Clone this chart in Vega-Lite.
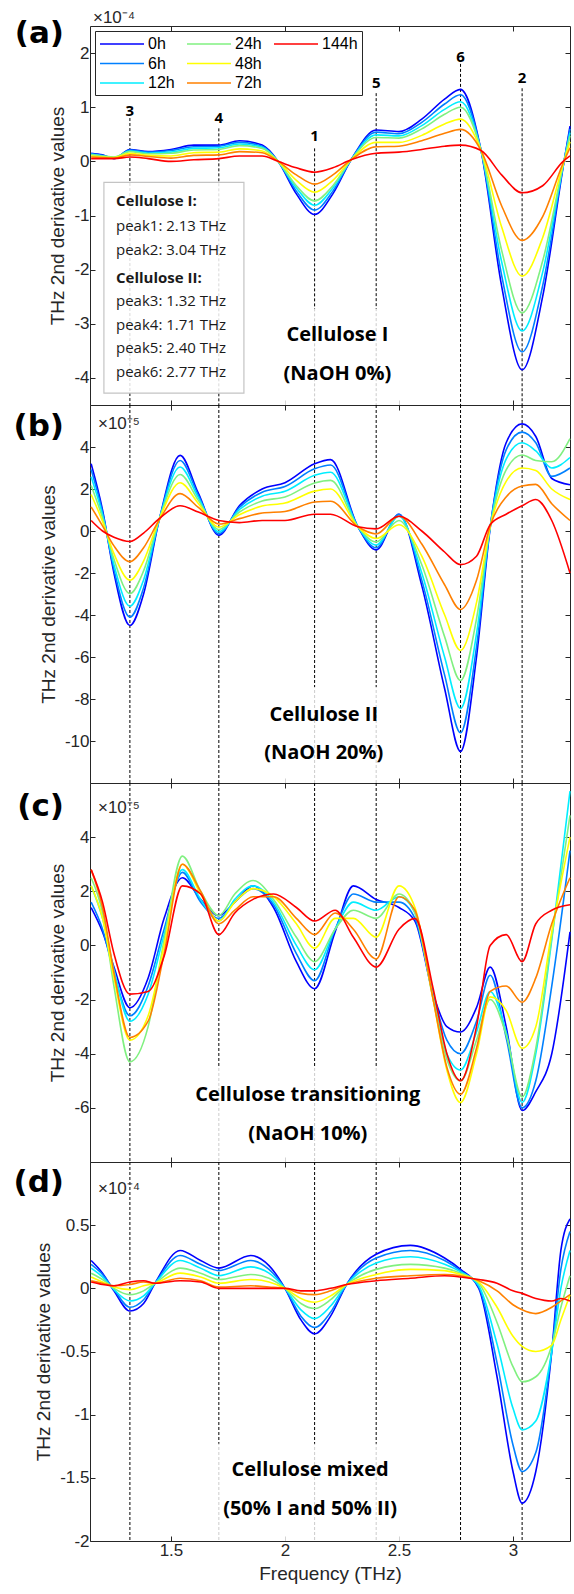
{
"$schema":"https://vega.github.io/schema/vega-lite/v6.json",
"background":"white",
"padding":{"left":12,"top":8,"right":5,"bottom":2},
"spacing":0,
"bounds":"flush",
"resolve":{"scale":{"color":"independent"},"legend":{"color":"independent"}},
"config":{
 "view":{"stroke":"#262626","strokeWidth":1},
 "axis":{"domain":false,"grid":false,"ticks":true,"tickColor":"#262626","tickSize":-5,"tickWidth":1,"labelFont":"Liberation Sans","labelFontSize":17,"labelColor":"#262626","labelPadding":6,"titleFont":"Liberation Sans","titleFontSize":19,"titleFontWeight":"normal","titleColor":"#262626","titlePadding":6,"labelExpr":"datum.value + ''"},
 "text":{"font":"Open Sans","color":"#000"}
},
"datasets":{
"pk":[{"n":"1","x":2.13,"top":0.24,"ly":0.46},{"n":"2","x":3.04,"top":1.35,"ly":1.54},{"n":"3","x":1.32,"top":0.8,"ly":0.93},{"n":"4","x":1.71,"top":0.61,"ly":0.8},{"n":"5","x":2.4,"top":1.26,"ly":1.44},{"n":"6","x":2.77,"top":1.8,"ly":1.93}],
"a":[
{"t":"0h","x":1.15,"y":0.15},{"t":"6h","x":1.15,"y":0.14},{"t":"12h","x":1.15,"y":0.13},{"t":"24h","x":1.15,"y":0.12},{"t":"48h","x":1.15,"y":0.10},{"t":"72h","x":1.15,"y":0.08},{"t":"144h","x":1.15,"y":0.05},
{"t":"0h","x":1.2,"y":0.12},{"t":"6h","x":1.2,"y":0.11},{"t":"12h","x":1.2,"y":0.10},{"t":"24h","x":1.2,"y":0.10},{"t":"48h","x":1.2,"y":0.08},{"t":"72h","x":1.2,"y":0.07},{"t":"144h","x":1.2,"y":0.05},
{"t":"0h","x":1.25,"y":0.05},{"t":"6h","x":1.25,"y":0.06},{"t":"12h","x":1.25,"y":0.07},{"t":"24h","x":1.25,"y":0.08},{"t":"48h","x":1.25,"y":0.07},{"t":"72h","x":1.25,"y":0.06},{"t":"144h","x":1.25,"y":0.05},
{"t":"0h","x":1.32,"y":0.22},{"t":"6h","x":1.32,"y":0.21},{"t":"12h","x":1.32,"y":0.19},{"t":"24h","x":1.32,"y":0.18},{"t":"48h","x":1.32,"y":0.15},{"t":"72h","x":1.32,"y":0.12},{"t":"144h","x":1.32,"y":0.08},
{"t":"0h","x":1.4,"y":0.18},{"t":"6h","x":1.4,"y":0.17},{"t":"12h","x":1.4,"y":0.15},{"t":"24h","x":1.4,"y":0.14},{"t":"48h","x":1.4,"y":0.11},{"t":"72h","x":1.4,"y":0.09},{"t":"144h","x":1.4,"y":0.05},
{"t":"0h","x":1.5,"y":0.22},{"t":"6h","x":1.5,"y":0.20},{"t":"12h","x":1.5,"y":0.17},{"t":"24h","x":1.5,"y":0.15},{"t":"48h","x":1.5,"y":0.10},{"t":"72h","x":1.5,"y":0.06},{"t":"144h","x":1.5,"y":0.00},
{"t":"0h","x":1.6,"y":0.30},{"t":"6h","x":1.6,"y":0.27},{"t":"12h","x":1.6,"y":0.24},{"t":"24h","x":1.6,"y":0.21},{"t":"48h","x":1.6,"y":0.16},{"t":"72h","x":1.6,"y":0.11},{"t":"144h","x":1.6,"y":0.03},
{"t":"0h","x":1.71,"y":0.30},{"t":"6h","x":1.71,"y":0.28},{"t":"12h","x":1.71,"y":0.25},{"t":"24h","x":1.71,"y":0.22},{"t":"48h","x":1.71,"y":0.17},{"t":"72h","x":1.71,"y":0.12},{"t":"144h","x":1.71,"y":0.05},
{"t":"0h","x":1.8,"y":0.38},{"t":"6h","x":1.8,"y":0.35},{"t":"12h","x":1.8,"y":0.32},{"t":"24h","x":1.8,"y":0.29},{"t":"48h","x":1.8,"y":0.23},{"t":"72h","x":1.8,"y":0.18},{"t":"144h","x":1.8,"y":0.10},
{"t":"0h","x":1.9,"y":0.30},{"t":"6h","x":1.9,"y":0.28},{"t":"12h","x":1.9,"y":0.26},{"t":"24h","x":1.9,"y":0.24},{"t":"48h","x":1.9,"y":0.19},{"t":"72h","x":1.9,"y":0.16},{"t":"144h","x":1.9,"y":0.10},
{"t":"0h","x":1.97,"y":0.0},{"t":"6h","x":1.97,"y":0.0},{"t":"12h","x":1.97,"y":0.0},{"t":"24h","x":1.97,"y":0.0},{"t":"48h","x":1.97,"y":0.0},{"t":"72h","x":1.97,"y":0.0},{"t":"144h","x":1.97,"y":0.0},
{"t":"0h","x":2.05,"y":-0.60},{"t":"6h","x":2.05,"y":-0.55},{"t":"12h","x":2.05,"y":-0.49},{"t":"24h","x":2.05,"y":-0.45},{"t":"48h","x":2.05,"y":-0.35},{"t":"72h","x":2.05,"y":-0.25},{"t":"144h","x":2.05,"y":-0.12},
{"t":"0h","x":2.13,"y":-0.98},{"t":"6h","x":2.13,"y":-0.90},{"t":"12h","x":2.13,"y":-0.81},{"t":"24h","x":2.13,"y":-0.73},{"t":"48h","x":2.13,"y":-0.57},{"t":"72h","x":2.13,"y":-0.42},{"t":"144h","x":2.13,"y":-0.20},
{"t":"0h","x":2.21,"y":-0.60},{"t":"6h","x":2.21,"y":-0.55},{"t":"12h","x":2.21,"y":-0.49},{"t":"24h","x":2.21,"y":-0.45},{"t":"48h","x":2.21,"y":-0.35},{"t":"72h","x":2.21,"y":-0.25},{"t":"144h","x":2.21,"y":-0.12},
{"t":"0h","x":2.29,"y":0.03},{"t":"6h","x":2.29,"y":0.03},{"t":"12h","x":2.29,"y":0.03},{"t":"24h","x":2.29,"y":0.03},{"t":"48h","x":2.29,"y":0.03},{"t":"72h","x":2.29,"y":0.03},{"t":"144h","x":2.29,"y":0.03},
{"t":"0h","x":2.4,"y":0.58},{"t":"6h","x":2.4,"y":0.54},{"t":"12h","x":2.4,"y":0.49},{"t":"24h","x":2.4,"y":0.44},{"t":"48h","x":2.4,"y":0.35},{"t":"72h","x":2.4,"y":0.27},{"t":"144h","x":2.4,"y":0.15},
{"t":"0h","x":2.5,"y":0.55},{"t":"6h","x":2.5,"y":0.51},{"t":"12h","x":2.5,"y":0.47},{"t":"24h","x":2.5,"y":0.43},{"t":"48h","x":2.5,"y":0.35},{"t":"72h","x":2.5,"y":0.28},{"t":"144h","x":2.5,"y":0.17},
{"t":"0h","x":2.6,"y":0.78},{"t":"6h","x":2.6,"y":0.72},{"t":"12h","x":2.6,"y":0.66},{"t":"24h","x":2.6,"y":0.60},{"t":"48h","x":2.6,"y":0.48},{"t":"72h","x":2.6,"y":0.38},{"t":"144h","x":2.6,"y":0.22},
{"t":"0h","x":2.7,"y":1.15},{"t":"6h","x":2.7,"y":1.06},{"t":"12h","x":2.7,"y":0.96},{"t":"24h","x":2.7,"y":0.87},{"t":"48h","x":2.7,"y":0.69},{"t":"72h","x":2.7,"y":0.52},{"t":"144h","x":2.7,"y":0.28},
{"t":"0h","x":2.77,"y":1.33},{"t":"6h","x":2.77,"y":1.23},{"t":"12h","x":2.77,"y":1.10},{"t":"24h","x":2.77,"y":1.00},{"t":"48h","x":2.77,"y":0.78},{"t":"72h","x":2.77,"y":0.59},{"t":"144h","x":2.77,"y":0.30},
{"t":"0h","x":2.86,"y":0.20},{"t":"6h","x":2.86,"y":0.20},{"t":"12h","x":2.86,"y":0.20},{"t":"24h","x":2.86,"y":0.20},{"t":"48h","x":2.86,"y":0.20},{"t":"72h","x":2.86,"y":0.20},{"t":"144h","x":2.86,"y":0.20},
{"t":"0h","x":2.95,"y":-2.3},{"t":"6h","x":2.95,"y":-2.1},{"t":"12h","x":2.95,"y":-1.85},{"t":"24h","x":2.95,"y":-1.64},{"t":"48h","x":2.95,"y":-1.21},{"t":"72h","x":2.95,"y":-0.82},{"t":"144h","x":2.95,"y":-0.25},
{"t":"0h","x":3.04,"y":-3.85},{"t":"6h","x":3.04,"y":-3.52},{"t":"12h","x":3.04,"y":-3.13},{"t":"24h","x":3.04,"y":-2.80},{"t":"48h","x":3.04,"y":-2.12},{"t":"72h","x":3.04,"y":-1.46},{"t":"144h","x":3.04,"y":-0.58},
{"t":"0h","x":3.13,"y":-2.5},{"t":"6h","x":3.13,"y":-2.3},{"t":"12h","x":3.13,"y":-2.05},{"t":"24h","x":3.13,"y":-1.84},{"t":"48h","x":3.13,"y":-1.41},{"t":"72h","x":3.13,"y":-1.02},{"t":"144h","x":3.13,"y":-0.45},
{"t":"0h","x":3.22,"y":-0.10},{"t":"6h","x":3.22,"y":-0.09},{"t":"12h","x":3.22,"y":-0.08},{"t":"24h","x":3.22,"y":-0.07},{"t":"48h","x":3.22,"y":-0.05},{"t":"72h","x":3.22,"y":-0.03},{"t":"144h","x":3.22,"y":0.00},
{"t":"0h","x":3.25,"y":0.65},{"t":"6h","x":3.25,"y":0.60},{"t":"12h","x":3.25,"y":0.53},{"t":"24h","x":3.25,"y":0.47},{"t":"48h","x":3.25,"y":0.36},{"t":"72h","x":3.25,"y":0.25},{"t":"144h","x":3.25,"y":0.10}
],
"b":[
{"t":"0h","x":1.15,"y":3.2},{"t":"6h","x":1.15,"y":2.93},{"t":"12h","x":1.15,"y":2.58},{"t":"24h","x":1.15,"y":2.17},{"t":"48h","x":1.15,"y":1.74},{"t":"72h","x":1.15,"y":1.15},{"t":"144h","x":1.15,"y":0.5},
{"t":"0h","x":1.2,"y":1.0},{"t":"6h","x":1.2,"y":0.9},{"t":"12h","x":1.2,"y":0.77},{"t":"24h","x":1.2,"y":0.62},{"t":"48h","x":1.2,"y":0.46},{"t":"72h","x":1.2,"y":0.24},{"t":"144h","x":1.2,"y":0.0},
{"t":"0h","x":1.25,"y":-2.0},{"t":"6h","x":1.25,"y":-1.83},{"t":"12h","x":1.25,"y":-1.61},{"t":"24h","x":1.25,"y":-1.35},{"t":"48h","x":1.25,"y":-1.08},{"t":"72h","x":1.25,"y":-0.71},{"t":"144h","x":1.25,"y":-0.3},
{"t":"0h","x":1.32,"y":-4.5},{"t":"6h","x":1.32,"y":-4.1},{"t":"12h","x":1.32,"y":-3.58},{"t":"24h","x":1.32,"y":-2.98},{"t":"48h","x":1.32,"y":-2.34},{"t":"72h","x":1.32,"y":-1.46},{"t":"144h","x":1.32,"y":-0.5},
{"t":"0h","x":1.38,"y":-3.0},{"t":"6h","x":1.38,"y":-2.71},{"t":"12h","x":1.38,"y":-2.33},{"t":"24h","x":1.38,"y":-1.9},{"t":"48h","x":1.38,"y":-1.43},{"t":"72h","x":1.38,"y":-0.8},{"t":"144h","x":1.38,"y":-0.1},
{"t":"0h","x":1.45,"y":0.6},{"t":"6h","x":1.45,"y":0.6},{"t":"12h","x":1.45,"y":0.6},{"t":"24h","x":1.45,"y":0.6},{"t":"48h","x":1.45,"y":0.6},{"t":"72h","x":1.45,"y":0.55},{"t":"144h","x":1.45,"y":0.6},
{"t":"0h","x":1.54,"y":3.6},{"t":"6h","x":1.54,"y":3.36},{"t":"12h","x":1.54,"y":3.05},{"t":"24h","x":1.54,"y":2.69},{"t":"48h","x":1.54,"y":2.3},{"t":"72h","x":1.54,"y":1.78},{"t":"144h","x":1.54,"y":1.2},
{"t":"0h","x":1.62,"y":1.8},{"t":"6h","x":1.62,"y":1.71},{"t":"12h","x":1.62,"y":1.59},{"t":"24h","x":1.62,"y":1.46},{"t":"48h","x":1.62,"y":1.31},{"t":"72h","x":1.62,"y":1.12},{"t":"144h","x":1.62,"y":0.9},
{"t":"0h","x":1.71,"y":-0.2},{"t":"6h","x":1.71,"y":-0.13},{"t":"12h","x":1.71,"y":-0.04},{"t":"24h","x":1.71,"y":0.07},{"t":"48h","x":1.71,"y":0.18},{"t":"72h","x":1.71,"y":0.33},{"t":"144h","x":1.71,"y":0.5},
{"t":"0h","x":1.8,"y":1.2},{"t":"6h","x":1.8,"y":1.12},{"t":"12h","x":1.8,"y":1.02},{"t":"24h","x":1.8,"y":0.9},{"t":"48h","x":1.8,"y":0.77},{"t":"72h","x":1.8,"y":0.59},{"t":"144h","x":1.8,"y":0.4},
{"t":"0h","x":1.9,"y":2.0},{"t":"6h","x":1.9,"y":1.85},{"t":"12h","x":1.9,"y":1.66},{"t":"24h","x":1.9,"y":1.43},{"t":"48h","x":1.9,"y":1.19},{"t":"72h","x":1.9,"y":0.86},{"t":"144h","x":1.9,"y":0.5},
{"t":"0h","x":2.0,"y":2.3},{"t":"6h","x":2.0,"y":2.12},{"t":"12h","x":2.0,"y":1.89},{"t":"24h","x":2.0,"y":1.62},{"t":"48h","x":2.0,"y":1.33},{"t":"72h","x":2.0,"y":0.93},{"t":"144h","x":2.0,"y":0.5},
{"t":"0h","x":2.13,"y":3.2},{"t":"6h","x":2.13,"y":2.96},{"t":"12h","x":2.13,"y":2.65},{"t":"24h","x":2.13,"y":2.29},{"t":"48h","x":2.13,"y":1.9},{"t":"72h","x":2.13,"y":1.38},{"t":"144h","x":2.13,"y":0.8},
{"t":"0h","x":2.2,"y":3.4},{"t":"6h","x":2.2,"y":3.14},{"t":"12h","x":2.2,"y":2.8},{"t":"24h","x":2.2,"y":2.41},{"t":"48h","x":2.2,"y":2.0},{"t":"72h","x":2.2,"y":1.42},{"t":"144h","x":2.2,"y":0.8},
{"t":"0h","x":2.32,"y":0.2},{"t":"6h","x":2.32,"y":0.2},{"t":"12h","x":2.32,"y":0.2},{"t":"24h","x":2.32,"y":0.2},{"t":"48h","x":2.32,"y":0.2},{"t":"72h","x":2.32,"y":0.2},{"t":"144h","x":2.32,"y":0.2},
{"t":"0h","x":2.4,"y":-0.9},{"t":"6h","x":2.4,"y":-0.8},{"t":"12h","x":2.4,"y":-0.67},{"t":"24h","x":2.4,"y":-0.52},{"t":"48h","x":2.4,"y":-0.36},{"t":"72h","x":2.4,"y":-0.14},{"t":"144h","x":2.4,"y":0.1},
{"t":"0h","x":2.5,"y":0.8},{"t":"6h","x":2.5,"y":0.8},{"t":"12h","x":2.5,"y":0.7},{"t":"24h","x":2.5,"y":0.5},{"t":"48h","x":2.5,"y":0.3},{"t":"72h","x":2.5,"y":0.7},{"t":"144h","x":2.5,"y":0.7},
{"t":"0h","x":2.6,"y":-2.6},{"t":"6h","x":2.6,"y":-2.34},{"t":"12h","x":2.6,"y":-2.0},{"t":"24h","x":2.6,"y":-1.61},{"t":"48h","x":2.6,"y":-1.2},{"t":"72h","x":2.6,"y":-0.62},{"t":"144h","x":2.6,"y":0.0},
{"t":"0h","x":2.7,"y":-7.5},{"t":"6h","x":2.7,"y":-6.85},{"t":"12h","x":2.7,"y":-6.0},{"t":"24h","x":2.7,"y":-5.03},{"t":"48h","x":2.7,"y":-3.99},{"t":"72h","x":2.7,"y":-2.56},{"t":"144h","x":2.7,"y":-1.0},
{"t":"0h","x":2.77,"y":-10.5},{"t":"6h","x":2.77,"y":-9.61},{"t":"12h","x":2.77,"y":-8.45},{"t":"24h","x":2.77,"y":-7.12},{"t":"48h","x":2.77,"y":-5.69},{"t":"72h","x":2.77,"y":-3.74},{"t":"144h","x":2.77,"y":-1.6},
{"t":"0h","x":2.84,"y":-6.0},{"t":"6h","x":2.84,"y":-5.52},{"t":"12h","x":2.84,"y":-4.9},{"t":"24h","x":2.84,"y":-4.18},{"t":"48h","x":2.84,"y":-3.41},{"t":"72h","x":2.84,"y":-2.35},{"t":"144h","x":2.84,"y":-1.2},
{"t":"0h","x":2.9,"y":0.15},{"t":"6h","x":2.9,"y":0.2},{"t":"12h","x":2.9,"y":0.2},{"t":"24h","x":2.9,"y":0.2},{"t":"48h","x":2.9,"y":0.2},{"t":"72h","x":2.9,"y":0.25},{"t":"144h","x":2.9,"y":0.3},
{"t":"0h","x":2.97,"y":4.2},{"t":"6h","x":2.97,"y":3.86},{"t":"12h","x":2.97,"y":3.42},{"t":"24h","x":2.97,"y":2.91},{"t":"48h","x":2.97,"y":2.36},{"t":"72h","x":2.97,"y":1.62},{"t":"144h","x":2.97,"y":0.8},
{"t":"0h","x":3.04,"y":5.1},{"t":"6h","x":3.04,"y":4.71},{"t":"12h","x":3.04,"y":4.2},{"t":"24h","x":3.04,"y":3.62},{"t":"48h","x":3.04,"y":3.0},{"t":"72h","x":3.04,"y":2.14},{"t":"144h","x":3.04,"y":1.2},
{"t":"0h","x":3.1,"y":4.5},{"t":"6h","x":3.1,"y":4.2},{"t":"12h","x":3.1,"y":3.81},{"t":"24h","x":3.1,"y":3.36},{"t":"48h","x":3.1,"y":2.88},{"t":"72h","x":3.1,"y":2.22},{"t":"144h","x":3.1,"y":1.5},
{"t":"0h","x":3.17,"y":2.5},{"t":"6h","x":3.17,"y":2.6},{"t":"12h","x":3.17,"y":3.0},{"t":"24h","x":3.17,"y":3.3},{"t":"48h","x":3.17,"y":2.0},{"t":"72h","x":3.17,"y":1.3},{"t":"144h","x":3.17,"y":0.5},
{"t":"0h","x":3.25,"y":2.2},{"t":"6h","x":3.25,"y":3.0},{"t":"12h","x":3.25,"y":3.5},{"t":"24h","x":3.25,"y":4.4},{"t":"48h","x":3.25,"y":1.5},{"t":"72h","x":3.25,"y":0.5},{"t":"144h","x":3.25,"y":-2.0}
],
"c":[
{"t":"0h","x":1.15,"y":1.4},{"t":"6h","x":1.15,"y":1.6},{"t":"12h","x":1.15,"y":2.2},{"t":"24h","x":1.15,"y":2.5},{"t":"48h","x":1.15,"y":2.2},{"t":"72h","x":1.15,"y":2.8},{"t":"144h","x":1.15,"y":2.8},
{"t":"0h","x":1.2,"y":0.5},{"t":"6h","x":1.2,"y":0.6},{"t":"12h","x":1.2,"y":1.0},{"t":"24h","x":1.2,"y":1.2},{"t":"48h","x":1.2,"y":1.0},{"t":"72h","x":1.2,"y":1.4},{"t":"144h","x":1.2,"y":1.6},
{"t":"0h","x":1.25,"y":-0.8},{"t":"6h","x":1.25,"y":-1.0},{"t":"12h","x":1.25,"y":-0.9},{"t":"24h","x":1.25,"y":-1.5},{"t":"48h","x":1.25,"y":-1.2},{"t":"72h","x":1.25,"y":-1.0},{"t":"144h","x":1.25,"y":-0.3},
{"t":"0h","x":1.32,"y":-2.3},{"t":"6h","x":1.32,"y":-2.6},{"t":"12h","x":1.32,"y":-2.8},{"t":"24h","x":1.32,"y":-4.3},{"t":"48h","x":1.32,"y":-3.5},{"t":"72h","x":1.32,"y":-3.4},{"t":"144h","x":1.32,"y":-1.8},
{"t":"0h","x":1.4,"y":-1.2},{"t":"6h","x":1.4,"y":-1.5},{"t":"12h","x":1.4,"y":-1.8},{"t":"24h","x":1.4,"y":-3.0},{"t":"48h","x":1.4,"y":-2.6},{"t":"72h","x":1.4,"y":-2.8},{"t":"144h","x":1.4,"y":-1.7},
{"t":"0h","x":1.47,"y":1.0},{"t":"6h","x":1.47,"y":0.6},{"t":"12h","x":1.47,"y":0.4},{"t":"24h","x":1.47,"y":0.2},{"t":"48h","x":1.47,"y":0.0},{"t":"72h","x":1.47,"y":-0.3},{"t":"144h","x":1.47,"y":-0.4},
{"t":"0h","x":1.55,"y":2.5},{"t":"6h","x":1.55,"y":2.7},{"t":"12h","x":1.55,"y":2.8},{"t":"24h","x":1.55,"y":3.3},{"t":"48h","x":1.55,"y":3.0},{"t":"72h","x":1.55,"y":3.0},{"t":"144h","x":1.55,"y":2.2},
{"t":"0h","x":1.63,"y":1.7},{"t":"6h","x":1.63,"y":1.6},{"t":"12h","x":1.63,"y":1.7},{"t":"24h","x":1.63,"y":2.0},{"t":"48h","x":1.63,"y":1.9},{"t":"72h","x":1.63,"y":2.0},{"t":"144h","x":1.63,"y":1.9},
{"t":"0h","x":1.71,"y":1.1},{"t":"6h","x":1.71,"y":1.0},{"t":"12h","x":1.71,"y":0.9},{"t":"24h","x":1.71,"y":1.1},{"t":"48h","x":1.71,"y":0.9},{"t":"72h","x":1.71,"y":0.8},{"t":"144h","x":1.71,"y":0.4},
{"t":"0h","x":1.78,"y":1.6},{"t":"6h","x":1.78,"y":1.6},{"t":"12h","x":1.78,"y":1.7},{"t":"24h","x":1.78,"y":1.9},{"t":"48h","x":1.78,"y":1.6},{"t":"72h","x":1.78,"y":1.3},{"t":"144h","x":1.78,"y":1.2},
{"t":"0h","x":1.86,"y":2.2},{"t":"6h","x":1.86,"y":2.1},{"t":"12h","x":1.86,"y":2.2},{"t":"24h","x":1.86,"y":2.4},{"t":"48h","x":1.86,"y":2.1},{"t":"72h","x":1.86,"y":1.8},{"t":"144h","x":1.86,"y":1.7},
{"t":"0h","x":1.95,"y":1.4},{"t":"6h","x":1.95,"y":1.5},{"t":"12h","x":1.95,"y":1.6},{"t":"24h","x":1.95,"y":1.7},{"t":"48h","x":1.95,"y":1.8},{"t":"72h","x":1.95,"y":1.8},{"t":"144h","x":1.95,"y":1.9},
{"t":"0h","x":2.05,"y":-0.6},{"t":"6h","x":2.05,"y":-0.3},{"t":"12h","x":2.05,"y":0.0},{"t":"24h","x":2.05,"y":0.3},{"t":"48h","x":2.05,"y":0.8},{"t":"72h","x":2.05,"y":1.0},{"t":"144h","x":2.05,"y":1.4},
{"t":"0h","x":2.13,"y":-1.6},{"t":"6h","x":2.13,"y":-1.3},{"t":"12h","x":2.13,"y":-0.9},{"t":"24h","x":2.13,"y":-0.6},{"t":"48h","x":2.13,"y":-0.1},{"t":"72h","x":2.13,"y":0.4},{"t":"144h","x":2.13,"y":0.9},
{"t":"0h","x":2.22,"y":0.5},{"t":"6h","x":2.22,"y":0.6},{"t":"12h","x":2.22,"y":0.6},{"t":"24h","x":2.22,"y":0.6},{"t":"48h","x":2.22,"y":1.0},{"t":"72h","x":2.22,"y":1.2},{"t":"144h","x":2.22,"y":1.3},
{"t":"0h","x":2.3,"y":2.2},{"t":"6h","x":2.3,"y":1.9},{"t":"12h","x":2.3,"y":1.6},{"t":"24h","x":2.3,"y":1.3},{"t":"48h","x":2.3,"y":1.0},{"t":"72h","x":2.3,"y":0.6},{"t":"144h","x":2.3,"y":0.3},
{"t":"0h","x":2.4,"y":1.7},{"t":"6h","x":2.4,"y":1.6},{"t":"12h","x":2.4,"y":1.3},{"t":"24h","x":2.4,"y":1.0},{"t":"48h","x":2.4,"y":0.3},{"t":"72h","x":2.4,"y":-0.5},{"t":"144h","x":2.4,"y":-0.8},
{"t":"0h","x":2.5,"y":1.4},{"t":"6h","x":2.5,"y":1.6},{"t":"12h","x":2.5,"y":1.8},{"t":"24h","x":2.5,"y":1.9},{"t":"48h","x":2.5,"y":2.2},{"t":"72h","x":2.5,"y":1.8},{"t":"144h","x":2.5,"y":0.6},
{"t":"0h","x":2.57,"y":0.9},{"t":"6h","x":2.57,"y":1.0},{"t":"12h","x":2.57,"y":1.2},{"t":"24h","x":2.57,"y":1.2},{"t":"48h","x":2.57,"y":1.4},{"t":"72h","x":2.57,"y":1.3},{"t":"144h","x":2.57,"y":1.0},
{"t":"0h","x":2.65,"y":-1.8},{"t":"6h","x":2.65,"y":-1.8},{"t":"12h","x":2.65,"y":-1.9},{"t":"24h","x":2.65,"y":-2.0},{"t":"48h","x":2.65,"y":-2.0},{"t":"72h","x":2.65,"y":-2.0},{"t":"144h","x":2.65,"y":-1.6},
{"t":"0h","x":2.71,"y":-3.0},{"t":"6h","x":2.71,"y":-3.5},{"t":"12h","x":2.71,"y":-4.0},{"t":"24h","x":2.71,"y":-4.2},{"t":"48h","x":2.71,"y":-4.6},{"t":"72h","x":2.71,"y":-4.5},{"t":"144h","x":2.71,"y":-4.0},
{"t":"0h","x":2.77,"y":-3.2},{"t":"6h","x":2.77,"y":-4.0},{"t":"12h","x":2.77,"y":-4.6},{"t":"24h","x":2.77,"y":-5.0},{"t":"48h","x":2.77,"y":-5.8},{"t":"72h","x":2.77,"y":-5.5},{"t":"144h","x":2.77,"y":-5.0},
{"t":"0h","x":2.84,"y":-2.3},{"t":"6h","x":2.84,"y":-2.8},{"t":"12h","x":2.84,"y":-3.2},{"t":"24h","x":2.84,"y":-3.5},{"t":"48h","x":2.84,"y":-4.0},{"t":"72h","x":2.84,"y":-3.8},{"t":"144h","x":2.84,"y":-3.0},
{"t":"0h","x":2.9,"y":-0.8},{"t":"6h","x":2.9,"y":-1.1},{"t":"12h","x":2.9,"y":-1.7},{"t":"24h","x":2.9,"y":-2.0},{"t":"48h","x":2.9,"y":-1.9},{"t":"72h","x":2.9,"y":-1.7},{"t":"144h","x":2.9,"y":0.0},
{"t":"0h","x":2.97,"y":-3.0},{"t":"6h","x":2.97,"y":-3.4},{"t":"12h","x":2.97,"y":-3.2},{"t":"24h","x":2.97,"y":-3.3},{"t":"48h","x":2.97,"y":-2.4},{"t":"72h","x":2.97,"y":-1.5},{"t":"144h","x":2.97,"y":0.4},
{"t":"0h","x":3.04,"y":-6.1},{"t":"6h","x":3.04,"y":-6.0},{"t":"12h","x":3.04,"y":-5.8},{"t":"24h","x":3.04,"y":-5.6},{"t":"48h","x":3.04,"y":-3.8},{"t":"72h","x":3.04,"y":-2.1},{"t":"144h","x":3.04,"y":-0.6},
{"t":"0h","x":3.1,"y":-5.4},{"t":"6h","x":3.1,"y":-5.0},{"t":"12h","x":3.1,"y":-4.0},{"t":"24h","x":3.1,"y":-3.8},{"t":"48h","x":3.1,"y":-3.0},{"t":"72h","x":3.1,"y":-1.2},{"t":"144h","x":3.1,"y":0.8},
{"t":"0h","x":3.17,"y":-4.0},{"t":"6h","x":3.17,"y":-1.5},{"t":"12h","x":3.17,"y":0.2},{"t":"24h","x":3.17,"y":0.3},{"t":"48h","x":3.17,"y":0.5},{"t":"72h","x":3.17,"y":0.8},{"t":"144h","x":3.17,"y":1.3},
{"t":"0h","x":3.25,"y":0.5},{"t":"6h","x":3.25,"y":3.5},{"t":"12h","x":3.25,"y":5.7},{"t":"24h","x":3.25,"y":4.8},{"t":"48h","x":3.25,"y":4.0},{"t":"72h","x":3.25,"y":2.5},{"t":"144h","x":3.25,"y":1.5}
],
"d":[
{"t":"0h","x":1.15,"y":0.22},{"t":"6h","x":1.15,"y":0.19},{"t":"12h","x":1.15,"y":0.16},{"t":"24h","x":1.15,"y":0.12},{"t":"48h","x":1.15,"y":0.09},{"t":"72h","x":1.15,"y":0.06},{"t":"144h","x":1.15,"y":0.05},
{"t":"0h","x":1.2,"y":0.12},{"t":"6h","x":1.2,"y":0.11},{"t":"12h","x":1.2,"y":0.09},{"t":"24h","x":1.2,"y":0.07},{"t":"48h","x":1.2,"y":0.05},{"t":"72h","x":1.2,"y":0.04},{"t":"144h","x":1.2,"y":0.03},
{"t":"0h","x":1.25,"y":-0.02},{"t":"6h","x":1.25,"y":-0.01},{"t":"12h","x":1.25,"y":-0.01},{"t":"24h","x":1.25,"y":0.0},{"t":"48h","x":1.25,"y":0.01},{"t":"72h","x":1.25,"y":0.02},{"t":"144h","x":1.25,"y":0.02},
{"t":"0h","x":1.32,"y":-0.18},{"t":"6h","x":1.32,"y":-0.15},{"t":"12h","x":1.32,"y":-0.10},{"t":"24h","x":1.32,"y":-0.05},{"t":"48h","x":1.32,"y":-0.01},{"t":"72h","x":1.32,"y":0.03},{"t":"144h","x":1.32,"y":0.05},
{"t":"0h","x":1.38,"y":-0.12},{"t":"6h","x":1.38,"y":-0.09},{"t":"12h","x":1.38,"y":-0.06},{"t":"24h","x":1.38,"y":-0.02},{"t":"48h","x":1.38,"y":0.02},{"t":"72h","x":1.38,"y":0.05},{"t":"144h","x":1.38,"y":0.06},
{"t":"0h","x":1.43,"y":0.04},{"t":"6h","x":1.43,"y":0.04},{"t":"12h","x":1.43,"y":0.04},{"t":"24h","x":1.43,"y":0.04},{"t":"48h","x":1.43,"y":0.04},{"t":"72h","x":1.43,"y":0.04},{"t":"144h","x":1.43,"y":0.04},
{"t":"0h","x":1.54,"y":0.30},{"t":"6h","x":1.54,"y":0.26},{"t":"12h","x":1.54,"y":0.22},{"t":"24h","x":1.54,"y":0.16},{"t":"48h","x":1.54,"y":0.12},{"t":"72h","x":1.54,"y":0.08},{"t":"144h","x":1.54,"y":0.06},
{"t":"0h","x":1.63,"y":0.22},{"t":"6h","x":1.63,"y":0.19},{"t":"12h","x":1.63,"y":0.16},{"t":"24h","x":1.63,"y":0.12},{"t":"48h","x":1.63,"y":0.09},{"t":"72h","x":1.63,"y":0.06},{"t":"144h","x":1.63,"y":0.05},
{"t":"0h","x":1.71,"y":0.16},{"t":"6h","x":1.71,"y":0.14},{"t":"12h","x":1.71,"y":0.10},{"t":"24h","x":1.71,"y":0.07},{"t":"48h","x":1.71,"y":0.04},{"t":"72h","x":1.71,"y":0.01},{"t":"144h","x":1.71,"y":0.0},
{"t":"0h","x":1.85,"y":0.26},{"t":"6h","x":1.85,"y":0.22},{"t":"12h","x":1.85,"y":0.17},{"t":"24h","x":1.85,"y":0.11},{"t":"48h","x":1.85,"y":0.07},{"t":"72h","x":1.85,"y":0.02},{"t":"144h","x":1.85,"y":0.0},
{"t":"0h","x":1.93,"y":0.18},{"t":"6h","x":1.93,"y":0.15},{"t":"12h","x":1.93,"y":0.12},{"t":"24h","x":1.93,"y":0.08},{"t":"48h","x":1.93,"y":0.05},{"t":"72h","x":1.93,"y":0.01},{"t":"144h","x":1.93,"y":0.0},
{"t":"0h","x":2.0,"y":0.0},{"t":"6h","x":2.0,"y":0.0},{"t":"12h","x":2.0,"y":0.0},{"t":"24h","x":2.0,"y":0.0},{"t":"48h","x":2.0,"y":0.0},{"t":"72h","x":2.0,"y":0.0},{"t":"144h","x":2.0,"y":0.0},
{"t":"0h","x":2.07,"y":-0.25},{"t":"6h","x":2.07,"y":-0.22},{"t":"12h","x":2.07,"y":-0.17},{"t":"24h","x":2.07,"y":-0.12},{"t":"48h","x":2.07,"y":-0.08},{"t":"72h","x":2.07,"y":-0.04},{"t":"144h","x":2.07,"y":-0.02},
{"t":"0h","x":2.13,"y":-0.36},{"t":"6h","x":2.13,"y":-0.31},{"t":"12h","x":2.13,"y":-0.24},{"t":"24h","x":2.13,"y":-0.16},{"t":"48h","x":2.13,"y":-0.11},{"t":"72h","x":2.13,"y":-0.05},{"t":"144h","x":2.13,"y":-0.02},
{"t":"0h","x":2.2,"y":-0.22},{"t":"6h","x":2.2,"y":-0.19},{"t":"12h","x":2.2,"y":-0.14},{"t":"24h","x":2.2,"y":-0.09},{"t":"48h","x":2.2,"y":-0.06},{"t":"72h","x":2.2,"y":-0.02},{"t":"144h","x":2.2,"y":0.0},
{"t":"0h","x":2.27,"y":0.03},{"t":"6h","x":2.27,"y":0.03},{"t":"12h","x":2.27,"y":0.03},{"t":"24h","x":2.27,"y":0.03},{"t":"48h","x":2.27,"y":0.03},{"t":"72h","x":2.27,"y":0.03},{"t":"144h","x":2.27,"y":0.03},
{"t":"0h","x":2.4,"y":0.27},{"t":"6h","x":2.4,"y":0.24},{"t":"12h","x":2.4,"y":0.20},{"t":"24h","x":2.4,"y":0.15},{"t":"48h","x":2.4,"y":0.11},{"t":"72h","x":2.4,"y":0.08},{"t":"144h","x":2.4,"y":0.06},
{"t":"0h","x":2.55,"y":0.34},{"t":"6h","x":2.55,"y":0.30},{"t":"12h","x":2.55,"y":0.25},{"t":"24h","x":2.55,"y":0.19},{"t":"48h","x":2.55,"y":0.15},{"t":"72h","x":2.55,"y":0.10},{"t":"144h","x":2.55,"y":0.08},
{"t":"0h","x":2.7,"y":0.24},{"t":"6h","x":2.7,"y":0.22},{"t":"12h","x":2.7,"y":0.19},{"t":"24h","x":2.7,"y":0.16},{"t":"48h","x":2.7,"y":0.14},{"t":"72h","x":2.7,"y":0.11},{"t":"144h","x":2.7,"y":0.10},
{"t":"0h","x":2.77,"y":0.15},{"t":"6h","x":2.77,"y":0.14},{"t":"12h","x":2.77,"y":0.13},{"t":"24h","x":2.77,"y":0.12},{"t":"48h","x":2.77,"y":0.11},{"t":"72h","x":2.77,"y":0.10},{"t":"144h","x":2.77,"y":0.09},
{"t":"0h","x":2.85,"y":0.0},{"t":"6h","x":2.85,"y":0.01},{"t":"12h","x":2.85,"y":0.02},{"t":"24h","x":2.85,"y":0.04},{"t":"48h","x":2.85,"y":0.05},{"t":"72h","x":2.85,"y":0.06},{"t":"144h","x":2.85,"y":0.07},
{"t":"0h","x":2.93,"y":-0.70},{"t":"6h","x":2.93,"y":-0.59},{"t":"12h","x":2.93,"y":-0.44},{"t":"24h","x":2.93,"y":-0.27},{"t":"48h","x":2.93,"y":-0.15},{"t":"72h","x":2.93,"y":-0.02},{"t":"144h","x":2.93,"y":0.04},
{"t":"0h","x":3.0,"y":-1.45},{"t":"6h","x":3.0,"y":-1.24},{"t":"12h","x":3.0,"y":-0.95},{"t":"24h","x":3.0,"y":-0.62},{"t":"48h","x":3.0,"y":-0.38},{"t":"72h","x":3.0,"y":-0.13},{"t":"144h","x":3.0,"y":-0.02},
{"t":"0h","x":3.04,"y":-1.70},{"t":"6h","x":3.04,"y":-1.45},{"t":"12h","x":3.04,"y":-1.12},{"t":"24h","x":3.04,"y":-0.74},{"t":"48h","x":3.04,"y":-0.46},{"t":"72h","x":3.04,"y":-0.17},{"t":"144h","x":3.04,"y":-0.04},
{"t":"0h","x":3.1,"y":-1.45},{"t":"6h","x":3.1,"y":-1.30},{"t":"12h","x":3.1,"y":-1.05},{"t":"24h","x":3.1,"y":-0.70},{"t":"48h","x":3.1,"y":-0.50},{"t":"72h","x":3.1,"y":-0.20},{"t":"144h","x":3.1,"y":-0.08},
{"t":"0h","x":3.17,"y":-0.50},{"t":"6h","x":3.17,"y":-0.50},{"t":"12h","x":3.17,"y":-0.50},{"t":"24h","x":3.17,"y":-0.45},{"t":"48h","x":3.17,"y":-0.45},{"t":"72h","x":3.17,"y":-0.15},{"t":"144h","x":3.17,"y":-0.10},
{"t":"0h","x":3.21,"y":0.30},{"t":"6h","x":3.21,"y":0.15},{"t":"12h","x":3.21,"y":0.0},{"t":"24h","x":3.21,"y":-0.15},{"t":"48h","x":3.21,"y":-0.25},{"t":"72h","x":3.21,"y":-0.10},{"t":"144h","x":3.21,"y":-0.08},
{"t":"0h","x":3.25,"y":0.55},{"t":"6h","x":3.25,"y":0.45},{"t":"12h","x":3.25,"y":0.30},{"t":"24h","x":3.25,"y":0.10},{"t":"48h","x":3.25,"y":-0.05},{"t":"72h","x":3.25,"y":-0.05},{"t":"144h","x":3.25,"y":-0.10}
]
},
"vconcat":[
{
 "width":480,"height":379,
 "resolve":{"axis":{"x":"independent","y":"independent"}},
 "layer":[
  {"data":{"name":"pk"},"mark":{"type":"rule","strokeDash":[3,2],"color":"#000","strokeWidth":1},
   "encoding":{
    "x":{"field":"x","type":"quantitative","scale":{"domain":[1.145,3.25]},"axis":{"orient":"top","labels":false,"title":null,"values":[1.5,2,2.5,3]}},
    "y":{"field":"top","type":"quantitative","scale":{"domain":[-4.5,2.5]},"axis":{"orient":"right","labels":false,"title":null,"values":[-4,-3,-2,-1,0,1,2]}},
    "y2":{"datum":-4.5}}},
  {"data":{"values":[{}]},"mark":{"type":"rect","fill":"white","opacity":0.8},
   "encoding":{"x":{"datum":1.96,"type":"quantitative","scale":{"domain":[1.145,3.25]},"axis":null},"x2":{"datum":2.51},"y":{"datum":-2.72,"type":"quantitative","scale":{"domain":[-4.5,2.5]},"axis":null},"y2":{"datum":-4.5}}},
  {"data":{"values":[{}]},"mark":{"type":"rect","fill":"white","fillOpacity":0.85,"stroke":"#c4c4c4","strokeWidth":1.2},
   "encoding":{"x":{"datum":1.206,"type":"quantitative","scale":{"domain":[1.145,3.25]},"axis":null},"x2":{"datum":1.82},"y":{"datum":-0.39,"type":"quantitative","scale":{"domain":[-4.5,2.5]},"axis":null},"y2":{"datum":-4.28}}},
  {"data":{"name":"a"},"mark":{"type":"line","interpolate":"monotone","strokeWidth":1.6},
   "encoding":{
    "x":{"field":"x","type":"quantitative","scale":{"domain":[1.145,3.25]},"axis":{"orient":"bottom","labels":false,"title":null,"values":[1.5,2,2.5,3]}},
    "y":{"field":"y","type":"quantitative","scale":{"domain":[-4.5,2.5]},"axis":{"orient":"left","title":"THz 2nd derivative values","values":[-4,-3,-2,-1,0,1,2]}},
    "color":{"field":"t","type":"nominal","scale":{"domain":["0h","24h","144h","6h","48h"," ","12h","72h"],"range":["#0000ff","#80f080","#ff0000","#0080ff","#ffff00","#ffffff","#00eeff","#ff8000"]},
     "legend":{"orient":"top-left","offset":5,"columns":3,"direction":"horizontal","title":null,"symbolType":"M-1,0H4.5","symbolSize":256,"symbolStrokeWidth":1.5,"labelFont":"Liberation Sans","labelFontSize":16,"labelColor":"#000","labelOffset":31,"columnPadding":0,"rowPadding":2.5,"gridAlign":"all","padding":4,"strokeColor":"#262626","fillColor":"white"}}}},
  {"data":{"name":"pk"},"mark":{"type":"text","fontSize":15,"fontWeight":"bold","baseline":"middle"},
   "encoding":{"x":{"field":"x","type":"quantitative","scale":{"domain":[1.145,3.25]},"axis":null},"y":{"field":"ly","type":"quantitative","scale":{"domain":[-4.5,2.5]},"axis":null},"text":{"field":"n"}}},
  {"data":{"values":[{"s":"Cellulose I:","y":-0.74},{"s":"Cellulose II:","y":-2.15}]},"mark":{"type":"text","fontSize":15,"fontWeight":"bold","align":"left","baseline":"middle","color":"#1a1a1a"},
   "encoding":{"x":{"datum":1.259,"type":"quantitative","scale":{"domain":[1.145,3.25]},"axis":null},"y":{"field":"y","type":"quantitative","scale":{"domain":[-4.5,2.5]},"axis":null},"text":{"field":"s"}}},
  {"data":{"values":[{"s":"peak1: 2.13 THz","y":-1.2},{"s":"peak2: 3.04 THz","y":-1.63},{"s":"peak3: 1.32 THz","y":-2.57},{"s":"peak4: 1.71 THz","y":-3.02},{"s":"peak5: 2.40 THz","y":-3.44},{"s":"peak6: 2.77 THz","y":-3.89}]},"mark":{"type":"text","fontSize":15,"align":"left","baseline":"middle","color":"#1a1a1a"},
   "encoding":{"x":{"datum":1.259,"type":"quantitative","scale":{"domain":[1.145,3.25]},"axis":null},"y":{"field":"y","type":"quantitative","scale":{"domain":[-4.5,2.5]},"axis":null},"text":{"field":"s"}}},
  {"data":{"values":[{"s":"Cellulose I","y":-3.2},{"s":"(NaOH 0%)","y":-3.93}]},"mark":{"type":"text","fontSize":20,"fontWeight":"bold","align":"center","baseline":"middle"},
   "encoding":{"x":{"datum":2.23,"type":"quantitative","scale":{"domain":[1.145,3.25]},"axis":null},"y":{"field":"y","type":"quantitative","scale":{"domain":[-4.5,2.5]},"axis":null},"text":{"field":"s"}}},
  {"data":{"values":[{}]},"mark":{"type":"text","text":"(a)","font":"DejaVu Sans","fontSize":31,"fontWeight":"bold","align":"right","baseline":"middle","dx":-26},
   "encoding":{"x":{"datum":1.145,"type":"quantitative","scale":{"domain":[1.145,3.25]},"axis":null},"y":{"datum":2.35,"type":"quantitative","scale":{"domain":[-4.5,2.5]},"axis":null}}},
  {"data":{"values":[{}]},"mark":{"type":"text","text":"×10⁻⁴","font":"Liberation Sans","fontSize":17,"color":"#262626","align":"left","baseline":"alphabetic"},
   "encoding":{"x":{"datum":1.158,"type":"quantitative","scale":{"domain":[1.145,3.25]},"axis":null},"y":{"datum":2.56,"type":"quantitative","scale":{"domain":[-4.5,2.5]},"axis":null}}}
 ]
},
{
 "width":480,"height":378,
 "resolve":{"axis":{"x":"independent","y":"independent"}},
 "layer":[
  {"data":{"name":"pk"},"mark":{"type":"rule","strokeDash":[3,2],"color":"#000","strokeWidth":1},
   "encoding":{
    "x":{"field":"x","type":"quantitative","scale":{"domain":[1.145,3.25]},"axis":{"orient":"top","labels":false,"title":null,"values":[1.5,2,2.5,3]}},
    "y":{"datum":6,"type":"quantitative","scale":{"domain":[-12,6]},"axis":{"orient":"right","labels":false,"title":null,"values":[-10,-8,-6,-4,-2,0,2,4]}},
    "y2":{"datum":-12}}},
  {"data":{"values":[{}]},"mark":{"type":"rect","fill":"white","opacity":0.8},
   "encoding":{"x":{"datum":1.87,"type":"quantitative","scale":{"domain":[1.145,3.25]},"axis":null},"x2":{"datum":2.46},"y":{"datum":-7.43,"type":"quantitative","scale":{"domain":[-12,6]},"axis":null},"y2":{"datum":-12}}},
  {"data":{"name":"b"},"mark":{"type":"line","interpolate":"monotone","strokeWidth":1.6},
   "encoding":{
    "x":{"field":"x","type":"quantitative","scale":{"domain":[1.145,3.25]},"axis":{"orient":"bottom","labels":false,"title":null,"values":[1.5,2,2.5,3]}},
    "y":{"field":"y","type":"quantitative","scale":{"domain":[-12,6]},"axis":{"orient":"left","title":"THz 2nd derivative values","values":[-10,-8,-6,-4,-2,0,2,4]}},
    "color":{"field":"t","type":"nominal","scale":{"domain":["0h","6h","12h","24h","48h","72h","144h"],"range":["#0000ff","#0080ff","#00eeff","#80f080","#ffff00","#ff8000","#ff0000"]},"legend":null}}},
  {"data":{"values":[{"s":"Cellulose II","y":-8.76},{"s":"(NaOH 20%)","y":-10.57}]},"mark":{"type":"text","fontSize":20,"fontWeight":"bold","align":"center","baseline":"middle"},
   "encoding":{"x":{"datum":2.17,"type":"quantitative","scale":{"domain":[1.145,3.25]},"axis":null},"y":{"field":"y","type":"quantitative","scale":{"domain":[-12,6]},"axis":null},"text":{"field":"s"}}},
  {"data":{"values":[{}]},"mark":{"type":"text","text":"(b)","font":"DejaVu Sans","fontSize":31,"fontWeight":"bold","align":"right","baseline":"middle","dx":-26},
   "encoding":{"x":{"datum":1.145,"type":"quantitative","scale":{"domain":[1.145,3.25]},"axis":null},"y":{"datum":4.95,"type":"quantitative","scale":{"domain":[-12,6]},"axis":null}}},
  {"data":{"values":[{}]},"mark":{"type":"text","text":"×10⁻⁵","font":"Liberation Sans","fontSize":17,"color":"#262626","align":"left","baseline":"middle"},
   "encoding":{"x":{"datum":1.18,"type":"quantitative","scale":{"domain":[1.145,3.25]},"axis":null},"y":{"datum":5.1,"type":"quantitative","scale":{"domain":[-12,6]},"axis":null}}}
 ]
},
{
 "width":480,"height":379,
 "resolve":{"axis":{"x":"independent","y":"independent"}},
 "layer":[
  {"data":{"name":"pk"},"mark":{"type":"rule","strokeDash":[3,2],"color":"#000","strokeWidth":1},
   "encoding":{
    "x":{"field":"x","type":"quantitative","scale":{"domain":[1.145,3.25]},"axis":{"orient":"top","labels":false,"title":null,"values":[1.5,2,2.5,3]}},
    "y":{"datum":6,"type":"quantitative","scale":{"domain":[-8,6]},"axis":{"orient":"right","labels":false,"title":null,"values":[-6,-4,-2,0,2,4]}},
    "y2":{"datum":-8}}},
  {"data":{"values":[{}]},"mark":{"type":"rect","fill":"white","opacity":0.8},
   "encoding":{"x":{"datum":1.566,"type":"quantitative","scale":{"domain":[1.145,3.25]},"axis":null},"x2":{"datum":2.63},"y":{"datum":-4.5,"type":"quantitative","scale":{"domain":[-8,6]},"axis":null},"y2":{"datum":-8}}},
  {"data":{"name":"c"},"mark":{"type":"line","interpolate":"monotone","strokeWidth":1.6},
   "encoding":{
    "x":{"field":"x","type":"quantitative","scale":{"domain":[1.145,3.25]},"axis":{"orient":"bottom","labels":false,"title":null,"values":[1.5,2,2.5,3]}},
    "y":{"field":"y","type":"quantitative","scale":{"domain":[-8,6]},"axis":{"orient":"left","title":"THz 2nd derivative values","values":[-6,-4,-2,0,2,4]}},
    "color":{"field":"t","type":"nominal","scale":{"domain":["0h","6h","12h","24h","48h","72h","144h"],"range":["#0000ff","#0080ff","#00eeff","#80f080","#ffff00","#ff8000","#ff0000"]},"legend":null}}},
  {"data":{"values":[{"s":"Cellulose transitioning","y":-5.53},{"s":"(NaOH 10%)","y":-6.97}]},"mark":{"type":"text","fontSize":20,"fontWeight":"bold","align":"center","baseline":"middle"},
   "encoding":{"x":{"datum":2.1,"type":"quantitative","scale":{"domain":[1.145,3.25]},"axis":null},"y":{"field":"y","type":"quantitative","scale":{"domain":[-8,6]},"axis":null},"text":{"field":"s"}}},
  {"data":{"values":[{}]},"mark":{"type":"text","text":"(c)","font":"DejaVu Sans","fontSize":31,"fontWeight":"bold","align":"right","baseline":"middle","dx":-26},
   "encoding":{"x":{"datum":1.145,"type":"quantitative","scale":{"domain":[1.145,3.25]},"axis":null},"y":{"datum":5.13,"type":"quantitative","scale":{"domain":[-8,6]},"axis":null}}},
  {"data":{"values":[{}]},"mark":{"type":"text","text":"×10⁻⁵","font":"Liberation Sans","fontSize":17,"color":"#262626","align":"left","baseline":"middle"},
   "encoding":{"x":{"datum":1.18,"type":"quantitative","scale":{"domain":[1.145,3.25]},"axis":null},"y":{"datum":5.06,"type":"quantitative","scale":{"domain":[-8,6]},"axis":null}}}
 ]
},
{
 "width":480,"height":379,
 "resolve":{"axis":{"x":"independent","y":"independent"}},
 "layer":[
  {"data":{"name":"pk"},"mark":{"type":"rule","strokeDash":[3,2],"color":"#000","strokeWidth":1},
   "encoding":{
    "x":{"field":"x","type":"quantitative","scale":{"domain":[1.145,3.25]},"axis":{"orient":"top","labels":false,"title":null,"values":[1.5,2,2.5,3]}},
    "y":{"datum":1,"type":"quantitative","scale":{"domain":[-2,1]},"axis":{"orient":"right","labels":false,"title":null,"values":[-1.5,-1,-0.5,0,0.5]}},
    "y2":{"datum":-2}}},
  {"data":{"values":[{}]},"mark":{"type":"rect","fill":"white","opacity":0.8},
   "encoding":{"x":{"datum":1.675,"type":"quantitative","scale":{"domain":[1.145,3.25]},"axis":null},"x2":{"datum":2.55},"y":{"datum":-1.23,"type":"quantitative","scale":{"domain":[-2,1]},"axis":null},"y2":{"datum":-2}}},
  {"data":{"name":"d"},"mark":{"type":"line","interpolate":"monotone","strokeWidth":1.6},
   "encoding":{
    "x":{"field":"x","type":"quantitative","scale":{"domain":[1.145,3.25]},"axis":{"orient":"bottom","title":"Frequency (THz)","values":[1.5,2,2.5,3]}},
    "y":{"field":"y","type":"quantitative","scale":{"domain":[-2,1]},"axis":{"orient":"left","title":"THz 2nd derivative values","values":[-2,-1.5,-1,-0.5,0,0.5]}},
    "color":{"field":"t","type":"nominal","scale":{"domain":["0h","6h","12h","24h","48h","72h","144h"],"range":["#0000ff","#0080ff","#00eeff","#80f080","#ffff00","#ff8000","#ff0000"]},"legend":null}}},
  {"data":{"values":[{"s":"Cellulose mixed","y":-1.44},{"s":"(50% I and 50% II)","y":-1.75}]},"mark":{"type":"text","fontSize":20,"fontWeight":"bold","align":"center","baseline":"middle"},
   "encoding":{"x":{"datum":2.11,"type":"quantitative","scale":{"domain":[1.145,3.25]},"axis":null},"y":{"field":"y","type":"quantitative","scale":{"domain":[-2,1]},"axis":null},"text":{"field":"s"}}},
  {"data":{"values":[{}]},"mark":{"type":"text","text":"(d)","font":"DejaVu Sans","fontSize":31,"fontWeight":"bold","align":"right","baseline":"middle","dx":-26},
   "encoding":{"x":{"datum":1.145,"type":"quantitative","scale":{"domain":[1.145,3.25]},"axis":null},"y":{"datum":0.83,"type":"quantitative","scale":{"domain":[-2,1]},"axis":null}}},
  {"data":{"values":[{}]},"mark":{"type":"text","text":"×10⁻⁴","font":"Liberation Sans","fontSize":17,"color":"#262626","align":"left","baseline":"middle"},
   "encoding":{"x":{"datum":1.18,"type":"quantitative","scale":{"domain":[1.145,3.25]},"axis":null},"y":{"datum":0.79,"type":"quantitative","scale":{"domain":[-2,1]},"axis":null}}}
 ]
}
]
}
